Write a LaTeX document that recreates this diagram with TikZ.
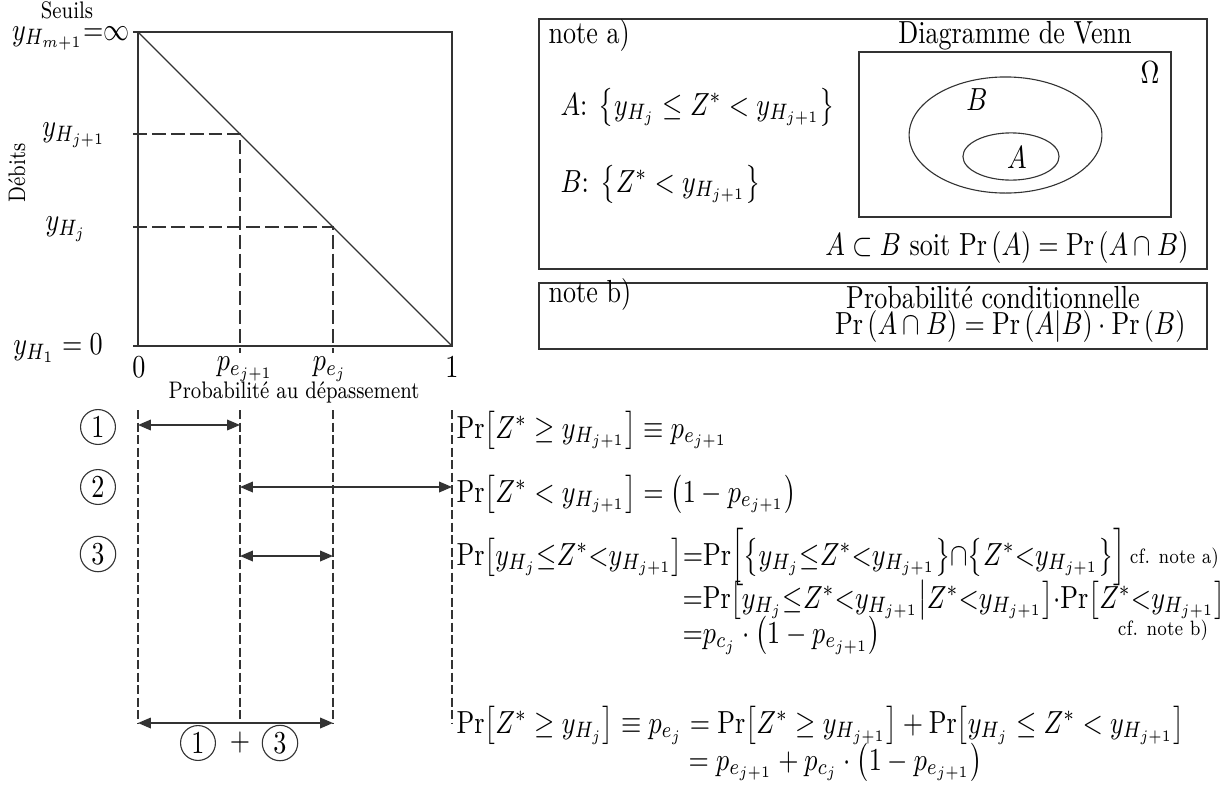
\documentclass[tikz,border=0pt]{standalone}
\usepackage{amsmath,amssymb}
\usepackage{graphicx}
\usepackage{tikz}
\usetikzlibrary{arrows.meta,positioning,calc}
\newcommand{\yH}[1]{y_{H_{#1}}}
\newcommand{\pe}[1]{p_{e_{#1}}}
\newcommand{\pc}{p_{c_j}}
\newcommand{\Prm}{\mathrm{Pr}}
\newsavebox{\boite}

\begin{document}
\begin{tikzpicture}[
  x=0.36pt, y={(0pt,-0.36pt)},
  every node/.append style={
    execute at begin node={\begin{lrbox}{\boite}},
    execute at end node={\end{lrbox}\scalebox{0.94}[1.15]{\usebox{\boite}}}},
  axe/.style={line width=0.5pt, draw=black!80},
  tiret/.style={axe, dash pattern=on 5pt off 1.8pt},
  tiretb/.style={axe, dash pattern=on 3.4pt off 1.1pt},
  fleche/.style={axe, line width=0.55pt,
    {Triangle[length=4.6pt,width=3.8pt]}-{Triangle[length=4.6pt,width=3.8pt]}},
  numero/.style={circle, draw=black!80, line width=0.4pt, inner sep=1.3pt, font=\normalsize},
  petit/.style={font=\fontsize{7.5}{9}\selectfont},
  renvoi/.style={font=\fontsize{6.5}{8}\selectfont, inner sep=0pt},
  formule/.style={anchor=base west, inner sep=0pt},
  note/.style={draw=black!80, line width=0.5pt}
]
  \useasboundingbox (0,0) rectangle (1227,789);

  % courbe de probabilite au depassement
  \coordinate (hg) at (138,32);
  \coordinate (hd) at (452,32);
  \coordinate (bg) at (138,346);
  \coordinate (bd) at (452,346);
  \coordinate (Pj1) at (240,134);
  \coordinate (Pj) at (333,227);
  \draw[axe] ($(hg)+(-5,0)$) -- (hd) -- (bd) -- ($(bg)+(-5,0)$);
  \draw[axe] (hg) -- (bg);
  \draw[axe, line width=0.4pt] (hg) -- (bd);
  \draw[tiret] (133,134) -- (Pj1) -- (240,353);
  \draw[tiret] (133,227) -- (Pj) -- (333,353);

  \node[petit, anchor=base, inner sep=0pt] (seuils) at (67,18) {Seuils};
  \node[petit, rotate=90] (debits) at (17,173) {Débits};
  \node[anchor=base east, inner sep=0pt] (ym) at (130,40) {$y_{H_{m+1}}\mathord{=}\infty$};
  \node[inner sep=0pt] (yj1) at (74,135) {$\yH{j+1}$};
  \node[inner sep=0pt] (yj) at (66,229) {$\yH{j}$};
  \node[inner sep=0pt] (y1) at (58,348) {$\yH{1}=0$};
  \node[inner sep=0pt] (zero) at (139,367) {$0$};
  \node[inner sep=0pt] (pj1) at (245,369) {$\pe{j+1}$};
  \node[inner sep=0pt] (pj) at (330,369) {$p_{e_j}$};
  \node[inner sep=0pt] (un) at (452,367) {$1$};
  \node[petit] (proba) at (294,392) {Probabilité au dépassement};

  % intervalles
  \foreach \nom/\x in {g/138, a/240, b/333, d/452} {
    \coordinate (\nom haut) at (\x,410);
    \coordinate (\nom bas) at (\x,723);
    \draw[tiretb] (\nom haut) -- (\nom bas);
  }
  \coordinate (f1g) at (138,425); \coordinate (f1d) at (240,425);
  \coordinate (f2g) at (240,487); \coordinate (f2d) at (452,487);
  \coordinate (f3g) at (240,556); \coordinate (f3d) at (333,556);
  \draw[fleche] (f1g) -- (f1d);
  \draw[fleche] (f2g) -- (f2d);
  \draw[fleche] (f3g) -- (f3d);
  \draw[fleche] (gbas) -- (bbas);

  \node[numero] (n1) at (98,427) {1};
  \node[numero] (n2) at (98,487) {2};
  \node[numero] (n3) at (98,554) {3};
  \node[numero] (s1) at (198,743) {1};
  \node (plus) at (240,743) {$+$};
  \node[numero] (s3) at (280,743) {3};

  % relations
  \node[formule] (r1) at (456,438)
    {$\Pr\bigl[Z^*\geq \yH{j+1}\bigr]\equiv \pe{j+1}$};
  \node[formule] (r2) at (456,502)
    {$\Pr\bigl[Z^* < \yH{j+1}\bigr] = \bigl(1-\pe{j+1}\bigr)$};
  \node[formule] (r3) at (456,565)
    {$\Prm\bigl[\yH{j}{\leq}Z^*{<}\yH{j+1}\bigr]{=}\Prm\Bigl[\bigl\{\yH{j}{\leq}Z^*{<}\yH{j+1}\bigr\}{\cap}\bigl\{Z^*{<}\yH{j+1}\bigr\}\Bigr]$};
  \node[renvoi, anchor=base west] (cfa) at ([yshift=0.6pt]r3.base east) {\,cf. note a)};
  \node[formule] (r4) at (682,608)
    {${=}\Prm\bigl[\yH{j}{\leq}Z^*{<}\yH{j+1}\big|Z^*{<}\yH{j+1}\bigr]{\cdot}\Prm\bigl[Z^*{<}\yH{j+1}\bigr]$};
  \node[renvoi, anchor=base] (cfb) at (1163,635) {cf. note b)};
  \node[formule] (r5) at (682,643)
    {${=}\pc\cdot\bigl(1-\pe{j+1}\bigr)$};
  \node[formule] (r6) at (456,733)
    {$\Pr\bigl[Z^*\geq \yH{j}\bigr]\equiv p_{e_j}=\Pr\bigl[Z^*\geq\yH{j+1}\bigr]+\Pr\bigl[\yH{j}\leq Z^*<\yH{j+1}\bigr]$};
  \node[formule] (r7) at (688,770)
    {$=\pe{j+1}+\pc\cdot\bigl(1-\pe{j+1}\bigr)$};

  % note a)
  \draw[note] (539,19) rectangle (1207,269);
  \node[anchor=base west, inner sep=0pt] (notea) at (548,43) {note a)};
  \node[anchor=base, inner sep=0pt] (venn) at (1015,43) {Diagramme de Venn};
  \draw[axe, line width=0.4pt] (859,52) rectangle (1171,217);
  \node (omega) at (1150,73) {$\Omega$};
  \draw[axe, line width=0.4pt] (1005.5,135) ellipse [x radius=34.7pt, y radius=20.9pt];
  \draw[axe, line width=0.4pt] (1011,156.5) ellipse [x radius=17.3pt, y radius=8.5pt];
  \node (lb) at (977,100) {$B$};
  \node (la) at (1017,158) {$A$};
  \node[anchor=base west, inner sep=0pt] (defa) at (560,115)
    {$A$: $\bigl\{\yH{j}\leq Z^*<\yH{j+1}\bigr\}$};
  \node[anchor=base west, inner sep=0pt] (defb) at (560,192)
    {$B$: $\bigl\{Z^*<\yH{j+1}\bigr\}$};
  \node[anchor=base east, inner sep=0pt] (incl) at (1189,255)
    {$A\subset B$ soit $\Pr\left(A\right)=\Pr\left(A\cap B\right)$};

  % note b)
  \draw[note] (539,283) rectangle (1207,349);
  \node[anchor=base west, inner sep=0pt] (noteb) at (548,302) {note b)};
  \node[anchor=base, inner sep=0pt] (cond) at (993,308) {Probabilité conditionnelle};
  \node[anchor=base east, inner sep=0pt] (bayes) at (1186,334)
    {$\Pr\left(A\cap B\right)=\Pr\left(A|B\right)\cdot\Pr\left(B\right)$};
\end{tikzpicture}
\end{document}
